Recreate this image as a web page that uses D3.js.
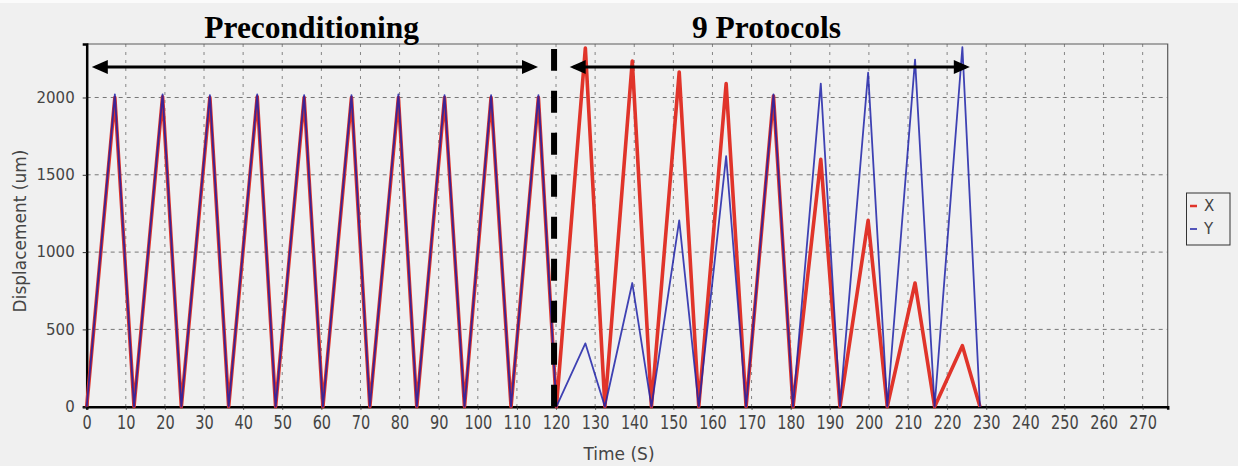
<!DOCTYPE html>
<html><head><meta charset="utf-8">
<script src="https://cdn.jsdelivr.net/npm/d3@7"></script>
<style>
html,body{margin:0;padding:0;background:#f0f0f0;}
svg{display:block;}
</style></head><body>
<svg id="c" width="1238" height="466"></svg>
<script>
// ---------- data ----------
const seriesNames = ["X", "Y"];
const seriesColors = ["#e0342a", "#1f22a8"];
const timeS = [0, 7.2, 12.1, 19.4, 24.2, 31.5, 36.3, 43.6, 48.3, 55.6, 60.4, 67.7, 72.4, 79.7, 84.4, 91.5, 96.6, 103.4, 108.5, 115.5,
  120.1, 127.5, 132.5, 139.5, 144.4, 151.5, 156.5, 163.5, 168.6, 175.6, 180.6, 187.7, 192.6, 199.8, 204.7, 211.8, 216.8, 223.9, 228.4];
const dispX = [0, 2000, 0, 2005, 0, 2000, 0, 2005, 0, 2000, 0, 2000, 0, 2000, 0, 2000, 0, 2000, 0, 2000,
  0, 2320, 0, 2235, 0, 2165, 0, 2090, 0, 2010, 0, 1600, 0, 1205, 0, 800, 0, 395, 0];
const dispY = [0, 2020, 0, 2020, 0, 2015, 0, 2020, 0, 2015, 0, 2015, 0, 2020, 0, 2015, 0, 2015, 0, 2015,
  0, 410, 0, 800, 0, 1205, 0, 1620, 0, 2020, 0, 2090, 0, 2160, 0, 2245, 0, 2325, 0];
const xTickValues = [0, 10, 20, 30, 40, 50, 60, 70, 80, 90, 100, 110, 120, 130, 140, 150, 160, 170, 180, 190, 200, 210, 220, 230, 240, 250, 260, 270];
const yTickValues = [0, 500, 1000, 1500, 2000];
const phaseLabels = ["Preconditioning", "9 Protocols"];
const phaseLabelCenters = [57.5, 173.8];        // time units
const phaseArrows = [[1.3, 115.4], [123.5, 225.8]]; // time units
const arrowLevel = 2197;                           // displacement units
const splitTime = 119.5;
const splitTop = 2313;

// ---------- layout ----------
const L = 86.7, R = 1167.7, T = 44, B = 406.7;
const x = d3.scaleLinear().domain([0, 276.4]).range([L, R]);
const y = d3.scaleLinear().domain([0, 2346]).range([B, T]);

const svg = d3.select("#c");
svg.append("rect").attr("width", 1238).attr("height", 466).attr("fill", "#f0f0f0");
svg.append("rect").attr("width", 1238).attr("height", 3).attr("fill", "#fbfbfb");

const tickFont = "DejaVu Sans, sans-serif";

// gridlines
svg.append("g").selectAll("line").data(xTickValues.filter(d => d > 0)).join("line")
  .attr("x1", d => x(d)).attr("x2", d => x(d)).attr("y1", T).attr("y2", B)
  .attr("stroke", "#858585").attr("stroke-width", 1).attr("stroke-dasharray", "3,5");
svg.append("g").selectAll("line").data(yTickValues.filter(d => d > 0)).join("line")
  .attr("x1", L).attr("x2", R).attr("y1", d => y(d)).attr("y2", d => y(d))
  .attr("stroke", "#777").attr("stroke-width", 1).attr("stroke-dasharray", "4,4");

// frame (top/right)
svg.append("path").attr("d", `M${L},${T}H${R}V${B}`).attr("fill", "none").attr("stroke", "#5a5a5a").attr("stroke-width", 1.2);

// axes
const ax = svg.append("g").attr("transform", `translate(0,${B})`)
  .call(d3.axisBottom(x).tickValues(xTickValues).tickSize(3).tickPadding(5).tickFormat(d3.format("d")));
const ay = svg.append("g").attr("transform", `translate(${L},0)`)
  .call(d3.axisLeft(y).tickValues(yTickValues).tickSize(4).tickPadding(8).tickFormat(d3.format("d")));
[ax, ay].forEach(g => {
  g.select(".domain").attr("stroke", "#000").attr("stroke-width", 2.5);
  g.selectAll(".tick line").attr("stroke", "#333");
  g.selectAll(".tick text").attr("font-family", tickFont).attr("fill", "#444");
});
ax.selectAll(".tick text").attr("font-size", 14.5).attr("y", 0).attr("dy", "0.71em")
  .attr("transform", "translate(0,8) scale(1,1.4)");
ay.selectAll(".tick text").attr("font-size", 15);

// axis titles
svg.append("text").attr("x", 619).attr("y", 460).attr("text-anchor", "middle")
  .attr("font-family", tickFont).attr("font-size", 17).attr("fill", "#444").text("Time (S)");
svg.append("text").attr("transform", "translate(26,231) rotate(-90)").attr("text-anchor", "middle")
  .attr("font-family", tickFont).attr("font-size", 17).attr("fill", "#444").text("Displacement (um)");

// series
const line = d3.line().x(d => x(d[0])).y(d => y(d[1]));
const ptsX = timeS.map((t, i) => [t, dispX[i]]);
const ptsY = timeS.map((t, i) => [t, dispY[i]]);
svg.append("path").attr("d", line(ptsX)).attr("fill", "none").attr("stroke", seriesColors[0])
  .attr("stroke-width", 3.6).attr("stroke-linejoin", "round");
svg.append("path").attr("d", line(ptsY)).attr("fill", "none").attr("stroke", seriesColors[1])
  .attr("stroke-width", 1.8).attr("stroke-opacity", 0.85).attr("stroke-linejoin", "round");

// split dashed line
svg.append("line").attr("x1", x(splitTime)).attr("x2", x(splitTime)).attr("y1", y(0)).attr("y2", y(splitTop))
  .attr("stroke", "#000").attr("stroke-width", 6).attr("stroke-dasharray", "22,20");

// arrows
function arrow(t0, t1) {
  const yy = y(arrowLevel), x0 = x(t0), x1 = x(t1), hl = 16, hw = 7;
  svg.append("line").attr("x1", x0 + 4).attr("x2", x1 - 4).attr("y1", yy).attr("y2", yy)
    .attr("stroke", "#000").attr("stroke-width", 3);
  svg.append("path").attr("d", `M${x0},${yy}L${x0 + hl},${yy - hw}L${x0 + hl},${yy + hw}Z`).attr("fill", "#000");
  svg.append("path").attr("d", `M${x1},${yy}L${x1 - hl},${yy - hw}L${x1 - hl},${yy + hw}Z`).attr("fill", "#000");
}
phaseArrows.forEach(a => arrow(a[0], a[1]));

// phase labels
svg.append("g").selectAll("text").data(phaseLabels).join("text")
  .attr("x", (d, i) => x(phaseLabelCenters[i])).attr("y", 38).attr("text-anchor", "middle")
  .attr("font-family", "Liberation Serif, Times New Roman, serif").attr("font-weight", "bold")
  .attr("font-size", 31.5).attr("fill", "#000").text(d => d);

// legend
const lg = svg.append("g");
lg.append("rect").attr("x", 1186.5).attr("y", 193).attr("width", 43.5).attr("height", 52)
  .attr("fill", "#f0f0f0").attr("stroke", "#333").attr("stroke-width", 1);
seriesNames.forEach((n, i) => {
  const yy = 206 + i * 23;
  lg.append("line").attr("x1", 1190).attr("x2", 1197).attr("y1", yy).attr("y2", yy)
    .attr("stroke", seriesColors[i]).attr("stroke-width", i === 0 ? 2.5 : 1.5);
  lg.append("text").attr("x", 1204).attr("y", yy).attr("dy", "0.36em")
    .attr("font-family", tickFont).attr("font-size", 15).attr("fill", "#444").text(n);
});
</script>
</body></html>
